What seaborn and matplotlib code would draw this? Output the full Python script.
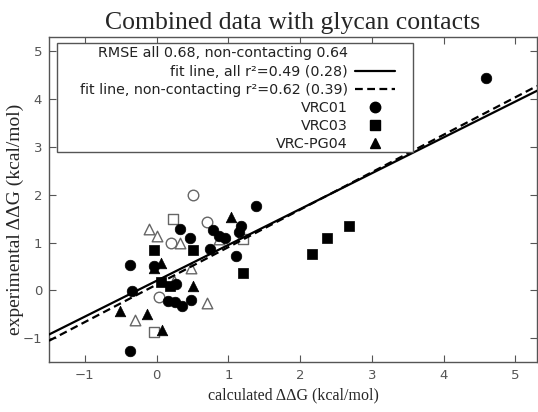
import numpy as np
import pandas as pd
import matplotlib
matplotlib.use('Agg')
import matplotlib.pyplot as plt
from matplotlib.lines import Line2D
from matplotlib.patches import Rectangle
import seaborn as sns

# VRC01 (circles)
vrc01_x = [-0.37, -0.35, -0.37, 0.33, 0.46, 0.745, 0.78, 0.875, 0.95, 1.10, 1.18, 1.15,
           1.38, 0.16, 0.25, 0.35, 0.48, 4.59, -0.03, 0.27]
vrc01_y = [0.52, -0.01, -1.27, 1.29, 1.09, 0.86, 1.27, 1.14, 1.10, 0.71, 1.35, 1.22,
           1.76, -0.22, -0.24, -0.32, -0.20, 4.45, 0.50, 0.13]
vrc01_open_x = [0.505, 0.70, 0.20, 0.03]
vrc01_open_y = [2.00, 1.43, 0.98, -0.13]

# VRC03 (squares)
vrc03_x = [-0.03, 0.50, 1.20, 0.065, 0.18, 2.16, 2.37, 2.68]
vrc03_y = [0.84, 0.84, 0.36, 0.17, 0.09, 0.75, 1.10, 1.35]
vrc03_open_x = [0.23, -0.04, 1.20]
vrc03_open_y = [1.49, -0.87, 1.07]

# VRC-PG04 (triangles)
pg04_x = [1.04, 0.065, -0.03, 0.51, -0.51, -0.14, 0.08]
pg04_y = [1.54, 0.58, 0.47, 0.08, -0.43, -0.50, -0.83]
pg04_open_x = [-0.11, 0.01, 0.32, 0.70, -0.30, 0.875, 0.48, 0.24]
pg04_open_y = [1.29, 1.14, 0.98, -0.27, -0.63, 1.07, 0.47, 0.20]

# fit lines (slope, intercept)
fit_all = (0.75, 0.20)
fit_noncontact = (0.784, 0.12)

legend_labels = ["RMSE all 0.68, non-contacting 0.64",
                 "fit line, all r²=0.49 (0.28)",
                 "fit line, non-contacting r²=0.62 (0.39)",
                 "VRC01", "VRC03", "VRC-PG04"]

sns.set_style('ticks')
plt.rcParams['font.family'] = ['DejaVu Sans']

fig = plt.figure(figsize=(5.38, 4.12), dpi=100)
ax = fig.add_axes([49 / 538, 1 - 362 / 412, 488 / 538, 325 / 412])

xlim = (-1.5, 5.3)
ylim = (-1.5, 5.3)

xs = np.array(xlim)
ax.plot(xs, fit_all[0] * xs + fit_all[1], color='black', lw=1.6, zorder=3)
ax.plot(xs, fit_noncontact[0] * xs + fit_noncontact[1], color='black', lw=1.6,
        ls=(0, (3.5, 2)), zorder=3)

groups = [
    (vrc01_open_x, vrc01_open_y, 'o', False),
    (vrc03_open_x, vrc03_open_y, 's', False),
    (pg04_open_x, pg04_open_y, '^', False),
    (vrc01_x, vrc01_y, 'o', True),
    (vrc03_x, vrc03_y, 's', True),
    (pg04_x, pg04_y, '^', True),
]
for gx, gy, mk, filled in groups:
    df = pd.DataFrame({'calc': gx, 'exp': gy})
    if filled:
        sns.scatterplot(data=df, x='calc', y='exp', marker=mk, s=58, color='black',
                        edgecolor='black', linewidth=0.5, ax=ax, zorder=4)
    else:
        sns.scatterplot(data=df, x='calc', y='exp', marker=mk, s=58, facecolor='white',
                        edgecolor='#666666', linewidth=1.0, ax=ax, zorder=2)

ax.set_xlim(*xlim)
ax.set_ylim(*ylim)
ax.set_xticks(range(-1, 6))
ax.set_yticks(range(-1, 6))
ax.tick_params(direction='in', length=5, width=0.8, color='#555555',
               labelcolor='#555555', labelsize=9.5, top=True, right=True, pad=5)
for sp in ax.spines.values():
    sp.set_color('#555555')
    sp.set_linewidth(1.0)

ax.set_title("Combined data with glycan contacts", family='Liberation Serif',
             fontsize=18.5, pad=6)
ax.set_xlabel("calculated ΔΔG (kcal/mol)", family='Liberation Serif', fontsize=11.5)
ax.set_ylabel("experimental ΔΔG (kcal/mol)", family='Liberation Serif', fontsize=14)
ax.yaxis.set_label_coords(-0.052, 0.44)

# legend frame drawn separately (gnuplot-style key box)
ax.add_patch(Rectangle((0.016, 0.646), 0.73, 0.336, transform=ax.transAxes,
                       facecolor='white', edgecolor='#555555', lw=1.0, zorder=5))

handles = [
    Line2D([], [], linestyle='none'),
    Line2D([], [], color='black', lw=1.6),
    Line2D([], [], color='black', lw=1.6, ls=(0, (3.5, 2))),
    Line2D([], [], color='black', marker='o', linestyle='none', markersize=7.5),
    Line2D([], [], color='black', marker='s', linestyle='none', markersize=6.5),
    Line2D([], [], color='black', marker='^', linestyle='none', markersize=7.5),
]
leg = ax.legend(handles, legend_labels, loc='upper right', bbox_to_anchor=(0.715, 0.98),
                borderaxespad=0, markerfirst=False, fontsize=10.3, handlelength=2.8,
                handletextpad=0.5, labelspacing=0.29, borderpad=0.2, frameon=False)
leg.set_zorder(6)
for t in leg.get_texts():
    t.set_color('#222222')

fig.savefig('out.png', dpi=100)
